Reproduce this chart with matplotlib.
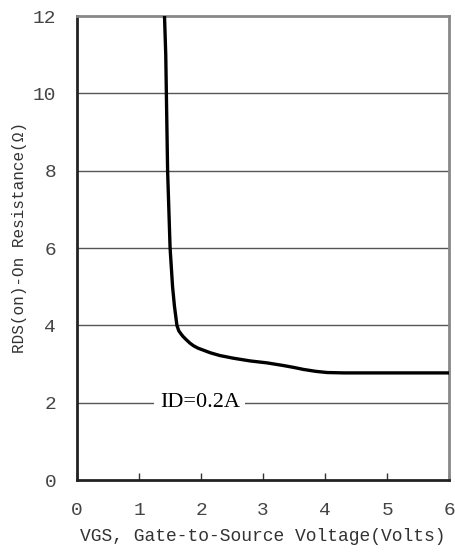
import matplotlib
matplotlib.use("Agg")
import matplotlib.pyplot as plt

# RDS(on) vs VGS curve, ID = 0.2 A
vgs = [1.41, 1.43, 1.44, 1.45, 1.46, 1.48, 1.50, 1.52, 1.54, 1.57, 1.61,
       1.64, 1.68, 1.71, 1.76, 1.82, 1.88, 1.95, 2.05, 2.15, 2.30, 2.52,
       2.79, 3.06, 3.33, 3.50, 3.65, 3.85, 4.03, 4.30, 6.00]
rds = [12.0, 11.0, 10.0, 9.0, 8.0, 7.0, 6.0, 5.5, 5.0, 4.5, 4.0,
       3.86, 3.77, 3.71, 3.63, 3.54, 3.47, 3.41, 3.35, 3.29, 3.22, 3.15,
       3.08, 3.03, 2.96, 2.91, 2.86, 2.81, 2.78, 2.77, 2.77]

x_ticks = [0, 1, 2, 3, 4, 5, 6]
y_ticks = [0, 2, 4, 6, 8, 10, 12]
annotation = "ID=0.2A"

fig = plt.figure(figsize=(4.56, 5.53), dpi=100)
ax = fig.add_axes([0.169, 0.132, 0.816, 0.839])

# horizontal grid lines
for y in y_ticks[1:-1]:
    ax.axhline(y, color="#555555", lw=1.0, zorder=1)

ax.plot(vgs, rds, color="black", lw=2.4, solid_capstyle="butt",
        solid_joinstyle="round", zorder=3)

ax.text(1.98, 2, annotation, family="Liberation Serif", fontsize=16,
        ha="center", va="center", zorder=2,
        bbox=dict(boxstyle="square,pad=0.25", fc="white", ec="none"))

ax.set_xlim(0, 6)
ax.set_ylim(0, 12)
ax.set_xticks(x_ticks)
ax.set_yticks(y_ticks)
ax.tick_params(axis="x", direction="in", length=5, width=1, color="#333333",
               pad=16, labelsize=14, labelcolor="#444444")
ax.tick_params(axis="y", length=0, pad=15, labelsize=14, labelcolor="#444444")
for lab in ax.get_xticklabels() + ax.get_yticklabels():
    lab.set_family("Liberation Mono")

for side in ("left", "bottom"):
    ax.spines[side].set_color("#222222")
    ax.spines[side].set_linewidth(2)
for side in ("top", "right"):
    ax.spines[side].set_color("#888888")
    ax.spines[side].set_linewidth(2)

ax.set_xlabel("VGS, Gate-to-Source Voltage(Volts)", family="Liberation Mono",
              fontsize=13, color="#333333", labelpad=6)
ax.set_ylabel("RDS(on)-On Resistance(\u03a9)", family="Liberation Mono",
              fontsize=11.5, color="#333333")
ax.yaxis.set_label_coords(-0.135, 0.522)

fig.savefig("out.png", dpi=100)
